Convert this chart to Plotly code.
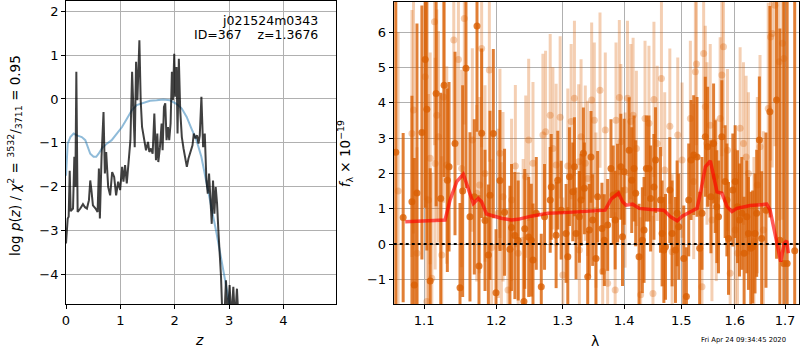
import plotly.graph_objects as go

# ---------------- left panel: p(z) ----------------
z_pz = [0.0, 0.007, 0.031, 0.049, 0.068, 0.086, 0.129, 0.153, 0.172, 0.190, 0.214, 0.263, 0.312,
        0.349, 0.385, 0.422, 0.446, 0.465, 0.495, 0.544, 0.581, 0.605, 0.623, 0.654, 0.690, 0.715,
        0.739, 0.776, 0.812, 0.849, 0.886, 0.922, 0.959, 0.996, 1.032, 1.057, 1.087, 1.118, 1.154,
        1.185, 1.216, 1.240, 1.264, 1.289, 1.313, 1.350, 1.374, 1.399, 1.435, 1.472, 1.509, 1.533,
        1.563, 1.594, 1.625, 1.655, 1.680, 1.698, 1.728, 1.759, 1.777, 1.802, 1.826, 1.850, 1.875,
        1.899, 1.924, 1.948, 1.966, 1.991, 2.009, 2.034, 2.052, 2.076, 2.101, 2.131, 2.162, 2.192,
        2.223, 2.253, 2.290, 2.327, 2.351, 2.382, 2.412, 2.437, 2.461, 2.491, 2.522, 2.553, 2.583,
        2.608, 2.632, 2.657, 2.681, 2.705, 2.730, 2.754, 2.779, 2.803, 2.827, 2.852, 2.870, 2.913,
        2.943, 2.974, 3.010, 3.041, 3.078, 3.108, 3.145, 3.163, 3.25, 3.5]
logp_pz = [-3.3, -3.19, -2.73, -2.69, -1.64, -2.56, -2.50, -1.32, -2.01, 0.62, -2.58, -2.50, -2.40,
           -2.47, -2.50, -2.31, -1.86, -2.05, -2.43, -2.50, -2.58, -1.59, -2.73, -1.32, -0.30, -1.70,
           -1.21, -2.01, -2.20, -1.67, -1.78, -2.20, -1.89, -2.08, -1.55, -1.89, -1.51, -1.93, -1.40,
           -0.94, 0.62, -0.26, -1.10, 0.85, -0.03, 1.34, -0.03, -0.64, -0.94, -1.17, -0.98, -1.21,
           -1.13, -1.25, -0.33, -1.40, -0.79, -1.44, -1.10, -0.56, -1.17, -0.18, -0.10, -0.94, -0.64,
           -0.94, -0.56, 0.62, -0.03, 1.03, 0.05, 0.73, -0.79, 0.92, -0.26, -0.87, -1.13, -1.32,
           -1.55, -1.36, -1.21, -1.06, -0.79, -0.90, -0.83, -1.02, -0.83, 0.05, -1.10, -0.79, -1.86,
           -2.16, -1.70, -2.35, -2.85, -1.86, -2.62, -2.01, -2.39, -3.00, -3.45, -4.06, -4.71, -4.98,
           -4.14, -4.98, -4.25, -5.05, -4.29, -5.05, -4.33, -5.10, -7.0, -9.0]

z_smooth = [0.0, 0.007, 0.031, 0.08, 0.14, 0.20, 0.29, 0.355, 0.40, 0.446, 0.507, 0.556, 0.60, 0.66,
            0.75, 0.84, 0.935, 1.03, 1.12, 1.21, 1.30, 1.42, 1.545, 1.667, 1.79, 1.91, 2.03, 2.13,
            2.22, 2.31, 2.40, 2.49, 2.58, 2.67, 2.77, 2.86, 2.95, 3.02, 3.10, 3.2]
logp_smooth = [-1.75, -1.55, -1.02, -0.87, -0.79, -0.83, -0.87, -0.94, -1.10, -1.25, -1.32, -1.32,
               -1.25, -1.13, -1.02, -0.94, -0.79, -0.64, -0.45, -0.26, -0.14, -0.09, -0.04, -0.03,
               -0.01, -0.03, -0.11, -0.22, -0.41, -0.68, -0.94, -1.32, -1.86, -2.47, -3.07, -3.68,
               -4.29, -4.67, -5.3, -6.0]

# ---------------- right panel: spectrum ----------------
lam_dark = [1.0630, 1.0725, 1.0839, 1.0870, 1.0905, 1.0970, 1.1014, 1.1036, 1.1080, 1.1160, 1.1222,
            1.1268, 1.1312, 1.1335, 1.1417, 1.1486, 1.1523, 1.1569, 1.1625, 1.1686, 1.1724, 1.1752,
            1.1790, 1.1838, 1.1886, 1.1909, 1.1957, 1.1996, 1.2053, 1.2120, 1.2199, 1.2223, 1.2272,
            1.2321, 1.2407, 1.2419, 1.2478, 1.2518, 1.2543, 1.2593, 1.2669, 1.2719, 1.2806, 1.2822,
            1.2898, 1.2924, 1.2977, 1.3054, 1.3081, 1.3107, 1.3160, 1.3186, 1.3212, 1.3265, 1.3292,
            1.3329, 1.3345, 1.3399, 1.3425, 1.3452, 1.3479, 1.3533, 1.3560, 1.3631, 1.3670, 1.3725,
            1.3780, 1.3818, 1.3850, 1.3890, 1.3945, 1.3973, 1.4001, 1.4085, 1.4130, 1.4169, 1.4197,
            1.4255, 1.4312, 1.4341, 1.4381, 1.4426, 1.4455, 1.4513, 1.4541, 1.4628, 1.4657, 1.4688,
            1.4717, 1.4794, 1.4835, 1.4895, 1.4925, 1.4954, 1.5045, 1.5093, 1.5135, 1.5178, 1.5226,
            1.5287, 1.5336, 1.5379, 1.5441, 1.5484, 1.5546, 1.5596, 1.5627, 1.5657, 1.5689, 1.5752,
            1.5815, 1.5848, 1.5879, 1.5962, 1.6007, 1.6052, 1.6091, 1.6136, 1.6181, 1.6233, 1.6265,
            1.6311, 1.6349, 1.6395, 1.6428, 1.6481, 1.6527, 1.6613, 1.6692, 1.6827, 1.6894, 1.6975,
            1.7043, 1.7199]
flux_dark = [2.60, 0.75, 1.20, -1.16, 1.45, 3.16, 5.23, 3.82, -1.05, 4.27, 1.29,
             4.50, 1.81, 2.19, 2.85, -1.24, 1.50, 4.98, 0.77, 1.34, 6.18, -0.62,
             3.14, 0.67, -0.31, 1.38, 3.13, -1.38, 1.80, 0.90, -0.15, 0.47, 0.24,
             0.10, -1.63, 0.43, 0.20, 0.11, -0.45, 0.87, -1.21, 0.77, 1.25, 1.62,
             0.25, 1.81, 0.96, 0.30, -0.36, 1.91, 1.48, 2.19, 0.30, 0.77, 1.25,
             2.57, 1.58, -0.93, 0.40, 2.47, 0.68, -0.41, 1.34, 0.44, 0.11, 0.54,
             2.14, 1.39, 0.68, 1.44, 2.19, 0.21, 2.05, 2.66, 1.81, 2.14, 1.44,
             -0.36, 0.11, 0.40, 2.14, 2.14, 1.29, 1.62, 2.38, 1.25, 0.30, -0.17,
             -0.08, 1.53, 0.30, -0.17, 0.87, 0.49, -0.41, -1.49, 1.25, 2.38, 2.52,
             2.47, -0.12, 0.87, 3.04, 2.76, 1.34, 2.85, 1.91, 1.06, 0.77, 3.04,
             1.77, 1.25, 0.16, 1.53, 1.77, 1.06, 0.68, 0.87, -0.26, 0.77, 0.30,
             -0.12, -0.08, 0.30, 0.87, 2.95, 0.16, 0.96, 3.75, 4.08, 0.11, -0.55,
             -0.55, -0.19]
err_dark = [4.6, 2.4, 3.0, 3.6, 4.8, 3.6, 4.2, 4.0, 3.2, 3.2, 3.0,
            2.6, 2.6, 2.4, 2.6, 2.4, 3.0, 3.4, 2.4, 2.2, 3.0, 2.0,
            2.4, 2.0, 2.0, 2.4, 2.4, 1.8, 2.0, 1.8, 1.8, 1.8, 1.8,
            1.7, 1.6, 1.7, 1.7, 1.6, 1.6, 1.6, 1.5, 1.5, 1.5, 1.5,
            1.5, 1.4, 1.4, 1.4, 1.4, 1.4, 1.4, 1.4, 1.3, 1.3, 1.3,
            1.3, 1.3, 1.3, 1.3, 1.3, 1.3, 1.3, 1.3, 1.3, 1.3, 1.3,
            1.4, 1.4, 1.4, 1.4, 1.5, 1.4, 1.5, 1.5, 1.5, 1.5, 1.5,
            1.5, 1.5, 1.5, 1.5, 1.5, 1.5, 1.5, 1.5, 1.5, 1.5, 1.5,
            1.5, 1.5, 1.5, 1.5, 1.5, 1.5, 1.5, 1.4, 1.6, 1.7, 1.7,
            1.7, 1.6, 1.6, 1.7, 1.7, 1.6, 1.7, 1.6, 1.6, 1.6, 1.6,
            1.6, 1.6, 1.6, 1.6, 1.6, 1.6, 1.6, 1.6, 1.6, 1.6, 1.6,
            1.6, 1.6, 1.7, 1.8, 1.8, 1.9, 2.2, 3.0, 4.5, 6.0, 8.0,
            8.0, 8.0]

lam_light = [1.0660, 1.0839, 1.0860, 1.0905, 1.1014, 1.1036, 1.1058, 1.1080, 1.1102, 1.1138, 1.1147,
             1.1170, 1.1192, 1.1236, 1.1259, 1.1304, 1.1400, 1.1464, 1.1509, 1.1546, 1.1658, 1.1720,
             1.1761, 1.1790, 1.1838, 1.1900, 1.1933, 1.2030, 1.2053, 1.2074, 1.2098, 1.2171, 1.2223,
             1.2279, 1.2321, 1.2395, 1.2434, 1.2478, 1.2543, 1.2694, 1.2735, 1.2806, 1.2848, 1.2898,
             1.2961, 1.3003, 1.3081, 1.3134, 1.3186, 1.3254, 1.3265, 1.3292, 1.3360, 1.3399, 1.3463,
             1.3506, 1.3533, 1.3599, 1.3643, 1.3686, 1.3725, 1.3850, 1.3864, 1.3920, 1.3945, 1.4017,
             1.4057, 1.4114, 1.4153, 1.4209, 1.4283, 1.4358, 1.4426, 1.4496, 1.4513, 1.4570, 1.4645,
             1.4703, 1.4794, 1.4835, 1.4936, 1.5014, 1.5165, 1.5226, 1.5257, 1.5276, 1.5379, 1.5410,
             1.5441, 1.5472, 1.5533, 1.5565, 1.5646, 1.5720, 1.5752, 1.5783, 1.5859, 1.5911, 1.6007,
             1.6052, 1.6103, 1.6168, 1.6220, 1.6265, 1.6374, 1.6441, 1.6494, 1.6560, 1.6658, 1.6705,
             1.6738, 1.6793, 1.6880, 1.6948, 1.6975]
flux_light = [1.50, 3.13, 3.80, -0.26, 4.74, -1.63, 1.25, 2.43, -0.97, 6.30, 2.28,
              3.65, 3.04, -0.31, 4.17, 2.24, 5.78, 5.23, 2.14, 6.39, 2.95, 1.44,
              1.67, 5.54, 2.00, 4.93, -0.10, 0.87, 2.57, -0.08, 1.34, -1.30, 1.25,
              2.21, -0.26, 0.11, 1.91, 2.95, 2.29, 3.09, 3.18, 3.65, 2.71, 2.24,
              3.59, -0.88, 2.21, 3.47, 4.13, 2.33, -0.17, 3.04, 2.29, 1.86, 4.08,
              3.51, 0.96, 4.36, -0.78, 3.23, -1.11, -1.30, 3.51, 4.15, 2.90, 1.53,
              4.13, 3.47, 3.65, 2.71, -1.44, 3.56, 3.42, -1.40, 4.10, 2.85, 4.69,
              2.10, 3.34, -0.22, 3.09, 2.38, 3.56, 1.77, 4.88, 5.10, -1.21, 5.40,
              3.89, 2.85, 3.37, 0.68, 1.25, 3.56, 4.79, 5.59, 2.66, -0.83, 0.40,
              -0.26, 3.28, 2.85, 2.47, 2.00, 0.07, 1.67, 2.76, 0.40, 3.84, 5.87,
              5.97, 6.77, 5.17, 5.69, 5.26]
err_light = [4.5, 3.5, 3.5, 3.0, 3.5, 3.0, 3.0, 3.0, 3.0, 3.5, 3.0,
             3.0, 3.0, 2.8, 3.0, 2.8, 3.0, 3.0, 2.8, 3.0, 2.6, 2.5,
             2.5, 2.8, 2.5, 2.6, 2.5, 2.4, 2.4, 2.4, 2.4, 2.3, 2.3,
             2.3, 2.3, 2.3, 2.3, 2.3, 2.3, 2.3, 2.3, 2.3, 2.3, 2.3,
             2.3, 2.2, 2.2, 2.2, 2.2, 2.2, 2.2, 2.2, 2.2, 2.2, 2.2,
             2.2, 2.2, 2.2, 2.2, 2.2, 2.2, 2.2, 2.2, 2.2, 2.2, 2.2,
             2.2, 2.2, 2.2, 2.2, 2.2, 2.2, 2.2, 2.2, 2.2, 2.2, 2.2,
             2.2, 2.2, 2.2, 2.2, 2.2, 2.2, 2.2, 2.3, 2.3, 2.2, 2.3,
             2.3, 2.3, 2.3, 2.3, 2.3, 2.3, 2.3, 2.3, 2.3, 2.3, 2.3,
             2.3, 2.3, 2.3, 2.3, 2.3, 2.4, 2.5, 2.6, 2.8, 3.0, 3.5,
             3.8, 4.0, 4.5, 5.0, 5.5]

lam_model = [1.0752, 1.1281, 1.1349, 1.1441, 1.1532, 1.1602, 1.1672, 1.1742, 1.1789, 1.1860, 1.1978,
             1.2072, 1.2221, 1.2318, 1.2517, 1.2770, 1.3029, 1.3293, 1.3563, 1.3683, 1.3782, 1.3904,
             1.3976, 1.4032, 1.4145, 1.4259, 1.4455, 1.4689, 1.4807, 1.4926, 1.5016, 1.5136, 1.5289,
             1.5350, 1.5442, 1.5535, 1.5597, 1.5660, 1.5754, 1.5849, 1.5945, 1.6041, 1.6300, 1.6629,
             1.6696, 1.6831, 1.6912, 1.6980, 1.7035, 1.7068]
flux_model = [0.63, 0.68, 1.25, 1.77, 1.98, 1.53, 1.15, 1.29, 1.20, 0.85, 0.77,
              0.73, 0.68, 0.70, 0.79, 0.87, 0.89, 0.91, 0.94, 0.96, 1.27, 1.44,
              1.20, 1.10, 1.13, 1.01, 0.98, 0.96, 0.77, 0.66, 0.79, 0.89, 1.01,
              1.44, 2.19, 2.36, 1.86, 1.48, 1.44, 1.06, 0.92, 1.01, 1.09, 1.13,
              0.96, 0.11, -0.50, 0.02, 0.09, -0.26]

lam_ticks = [1.1, 1.2, 1.3, 1.4, 1.5, 1.6, 1.7]
lam_ticktext = ["1.1", "1.2", "1.3", "1.4", "1.5", "1.6", "1.7"]

FONT = "DejaVu Sans"
GRID = "#b0b0b0"

fig = go.Figure()

fig.add_trace(go.Scatter(x=z_smooth, y=logp_smooth, mode="lines",
                         line=dict(color="rgba(31,119,180,0.5)", width=2),
                         xaxis="x", yaxis="y", showlegend=False))
fig.add_trace(go.Scatter(x=z_pz, y=logp_pz, mode="lines",
                         line=dict(color="rgba(0,0,0,0.75)", width=2),
                         xaxis="x", yaxis="y", showlegend=False))

fig.add_trace(go.Scatter(x=lam_light, y=flux_light, mode="markers",
                         marker=dict(color="rgba(217,95,2,0.3)", size=7),
                         error_y=dict(type="data", array=err_light, thickness=3, width=0,
                                      color="rgba(217,95,2,0.3)"),
                         xaxis="x2", yaxis="y2", showlegend=False))
fig.add_trace(go.Scatter(x=lam_dark, y=flux_dark, mode="markers",
                         marker=dict(color="rgba(217,95,2,0.8)", size=7),
                         error_y=dict(type="data", array=err_dark, thickness=3, width=0,
                                      color="rgba(217,95,2,0.8)"),
                         xaxis="x2", yaxis="y2", showlegend=False))
fig.add_trace(go.Scatter(x=lam_model, y=flux_model, mode="lines",
                         line=dict(color="rgba(255,0,0,0.65)", width=3.5),
                         xaxis="x2", yaxis="y2", showlegend=False))

fig.add_shape(type="line", xref="x2 domain", yref="y2", x0=0, x1=1, y0=0, y1=0,
              line=dict(color="black", width=2, dash="dot"), layer="above")

axis_common = dict(showgrid=True, gridcolor=GRID, gridwidth=1, showline=True, mirror=True,
                   linecolor="black", linewidth=1, ticks="outside", ticklen=4, tickcolor="black",
                   zeroline=False, tickfont=dict(family=FONT, size=13, color="black"))

fig.update_layout(
    width=800, height=350,
    margin=dict(l=0, r=0, t=0, b=0),
    paper_bgcolor="white", plot_bgcolor="white",
    font=dict(family=FONT, color="black"),
    xaxis=dict(domain=[0.0779, 0.4166], range=[0, 4.96], tickvals=[0, 1, 2, 3, 4],
               anchor="y", **axis_common),
    yaxis=dict(domain=[0.1314, 0.997], range=[-4.68, 2.235], tickvals=[-4, -3, -2, -1, 0, 1, 2],
               anchor="x", **axis_common),
    xaxis2=dict(domain=[0.4896, 0.9991], type="log", range=[0.02545, 0.2379],
                tickvals=lam_ticks, ticktext=lam_ticktext, anchor="y2", **axis_common),
    yaxis2=dict(domain=[0.1314, 0.9943], range=[-1.70, 6.86],
                tickvals=[-1, 0, 1, 2, 3, 4, 5, 6], anchor="x2", **axis_common),
)

ann = [
    dict(text="j021524m0343", x=318 / 800, y=1 - 20.5 / 350, xanchor="right", yanchor="middle",
         font=dict(size=12.5)),
    dict(text="ID=367\u00a0\u00a0\u00a0\u00a0z=1.3676", x=318 / 800, y=1 - 34 / 350,
         xanchor="right", yanchor="middle", font=dict(size=12.5)),
    dict(text="<i>z</i>", x=196 / 800, y=1 - 340 / 350, xanchor="center", yanchor="middle",
         font=dict(size=14)),
    dict(text="λ", x=594 / 800, y=1 - 341 / 350, xanchor="center", yanchor="middle",
         font=dict(size=14)),
    dict(text="log <i>p</i>(<i>z</i>) / <i>χ</i><sup>2</sup> = <sup>3532</sup>/<sub>3711</sub> = 0.95",
         x=11 / 800, y=1 - 155 / 350, xanchor="center", yanchor="middle", textangle=-90,
         font=dict(size=13.5)),
    dict(text="<i>f</i><sub>λ</sub> × 10<sup>−19</sup>", x=343 / 800, y=1 - 154 / 350,
         xanchor="center", yanchor="middle", textangle=-90, font=dict(size=13.5)),
    dict(text="Fri Apr 24 09:34:45 2020", x=788 / 800, y=1 - 339.5 / 350, xanchor="right",
         yanchor="middle", font=dict(size=6.8)),
]
for a in ann:
    a.update(xref="paper", yref="paper", showarrow=False)
    a.setdefault("font", {})
    a["font"].setdefault("family", FONT)
    a["font"]["color"] = "black"
fig.update_layout(annotations=ann)

fig.write_html("out.html", config={"displayModeBar": False},
               post_script="document.body.style.margin='0';document.body.style.padding='0';")
